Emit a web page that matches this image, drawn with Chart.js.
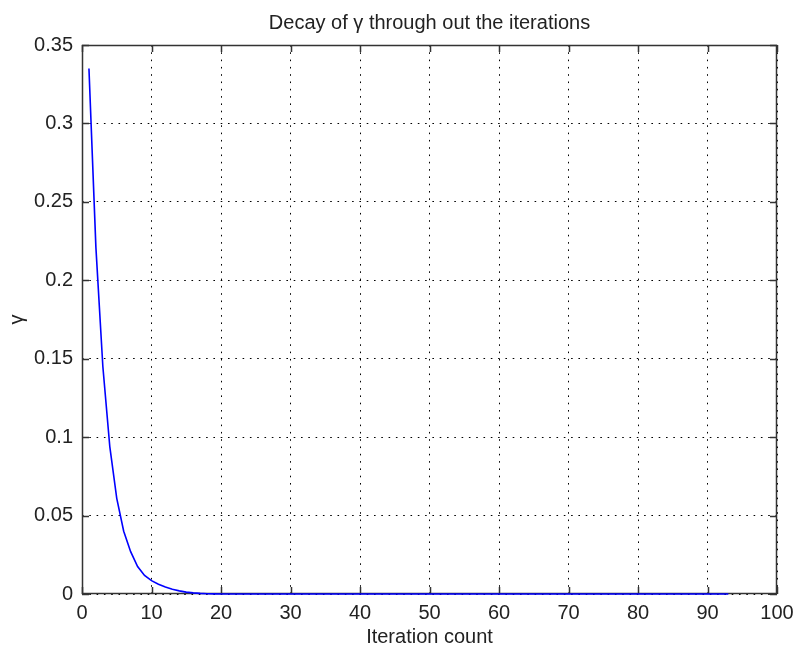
<!DOCTYPE html>
<html>
<head>
<meta charset="utf-8">
<title>Decay of gamma</title>
<script src="https://cdn.jsdelivr.net/npm/chart.js@4.4.0/dist/chart.umd.min.js"></script>
<style>
  html, body { margin: 0; padding: 0; background: #fff; }
  #wrap { width: 794px; height: 650px; }
</style>
</head>
<body>
<div id="wrap"><canvas id="decayChart"></canvas></div>
<script>
// Iteration numbers (x) and gamma per iteration (y)
const iterations = [
  1, 2, 3, 4, 5, 6, 7, 8, 9, 10,
  11, 12, 13, 14, 15, 16, 17, 18, 19, 20,
  21, 22, 23, 24, 25, 26, 27, 28, 29, 30,
  31, 32, 33, 34, 35, 36, 37, 38, 39, 40,
  41, 42, 43, 44, 45, 46, 47, 48, 49, 50,
  51, 52, 53, 54, 55, 56, 57, 58, 59, 60,
  61, 62, 63, 64, 65, 66, 67, 68, 69, 70,
  71, 72, 73, 74, 75, 76, 77, 78, 79, 80,
  81, 82, 83, 84, 85, 86, 87, 88, 89, 90,
  91, 92, 93
];
const gammaValues = [
  0.335, 0.221, 0.145, 0.094, 0.061, 0.040, 0.027, 0.0175, 0.0118, 0.0085,
  0.0062, 0.0044, 0.0030, 0.0020, 0.0012, 0.0007, 0.0004, 0.0002, 0.0001, 0,
  0, 0, 0, 0, 0, 0, 0, 0, 0, 0,
  0, 0, 0, 0, 0, 0, 0, 0, 0, 0,
  0, 0, 0, 0, 0, 0, 0, 0, 0, 0,
  0, 0, 0, 0, 0, 0, 0, 0, 0, 0,
  0, 0, 0, 0, 0, 0, 0, 0, 0, 0,
  0, 0, 0, 0, 0, 0, 0, 0, 0, 0,
  0, 0, 0, 0, 0, 0, 0, 0, 0, 0,
  0, 0, 0
];

// Tick positions and labels
const xTickValues = [0, 10, 20, 30, 40, 50, 60, 70, 80, 90, 100];
const yTickValues = [0, 0.05, 0.1, 0.15, 0.2, 0.25, 0.3, 0.35];
const yTickLabels = ['0', '0.05', '0.1', '0.15', '0.2', '0.25', '0.3', '0.35'];

const FONT = 'Liberation Sans, Arial, Helvetica, sans-serif';
const FONT_SIZE = 20;
const TEXT_COLOR = '#222';

// Box around the plot plus inward ticks, like a MATLAB axes
const axesBox = {
  id: 'axesBox',
  afterLayout(chart) {
    // centre the title over the plot area, not the whole canvas
    if (chart.titleBlock) {
      chart.titleBlock.left = chart.chartArea.left;
      chart.titleBlock.right = chart.chartArea.right;
    }
  },
  beforeDatasetsDraw(chart) {
    const { ctx, chartArea: a, scales: { x, y } } = chart;
    const tickLen = 7;
    ctx.save();
    ctx.strokeStyle = '#333';
    ctx.lineWidth = 1.5;
    ctx.strokeRect(a.left + 0.5, a.top + 0.5, a.right - a.left - 1, a.bottom - a.top - 1);
    ctx.beginPath();
    x.ticks.forEach(t => {
      const px = Math.round(x.getPixelForValue(t.value)) + 0.5;
      ctx.moveTo(px, a.bottom);
      ctx.lineTo(px, a.bottom - tickLen);
      ctx.moveTo(px, a.top);
      ctx.lineTo(px, a.top + tickLen);
    });
    y.ticks.forEach(t => {
      const py = Math.round(y.getPixelForValue(t.value)) + 0.5;
      ctx.moveTo(a.left, py);
      ctx.lineTo(a.left + tickLen, py);
      ctx.moveTo(a.right, py);
      ctx.lineTo(a.right - tickLen, py);
    });
    ctx.stroke();
    ctx.restore();
  }
};

const ctx = document.getElementById('decayChart').getContext('2d');

new Chart(ctx, {
  type: 'line',
  data: {
    datasets: [{
      label: 'gamma',
      data: iterations.map((it, i) => ({ x: it, y: gammaValues[i] })),
      borderColor: '#0000ff',
      borderWidth: 1.6,
      pointRadius: 0,
      fill: false,
      tension: 0,
      clip: false
    }]
  },
  options: {
    responsive: true,
    maintainAspectRatio: false,
    animation: false,
    layout: { padding: { left: 0, right: 17, top: 0, bottom: 0 } },
    plugins: {
      legend: { display: false },
      tooltip: { enabled: false },
      title: {
        display: true,
        text: 'Decay of γ through out the iterations',
        color: TEXT_COLOR,
        font: { family: FONT, size: FONT_SIZE, weight: 'normal' },
        padding: { top: 11, bottom: 10 }
      }
    },
    scales: {
      x: {
        type: 'linear',
        min: 0,
        max: 100,
        afterBuildTicks: scale => { scale.ticks = xTickValues.map(v => ({ value: v })); },
        afterFit: scale => { scale.height = 56; scale.paddingLeft = 0; scale.paddingRight = 0; },
        grid: { color: '#000', lineWidth: 1, drawTicks: false },
        border: { display: false, dash: [1.6, 5.7] },
        ticks: {
          color: TEXT_COLOR,
          font: { family: FONT, size: FONT_SIZE },
          padding: 7,
          maxRotation: 0,
          callback: v => String(v)
        },
        title: {
          display: true,
          text: 'Iteration count',
          color: TEXT_COLOR,
          font: { family: FONT, size: FONT_SIZE },
          padding: { top: 0, bottom: 1 }
        }
      },
      y: {
        type: 'linear',
        min: 0,
        max: 0.35,
        afterBuildTicks: scale => { scale.ticks = yTickValues.map(v => ({ value: v })); },
        afterFit: scale => { scale.width = 82; },
        grid: { color: '#000', lineWidth: 1, drawTicks: false },
        border: { display: false, dash: [1.6, 5.7] },
        ticks: {
          color: TEXT_COLOR,
          font: { family: FONT, size: FONT_SIZE },
          padding: 9,
          callback: (v, i) => yTickLabels[i]
        },
        title: {
          display: true,
          text: 'γ',
          color: TEXT_COLOR,
          font: { family: FONT, size: FONT_SIZE },
          padding: { top: 5.5, bottom: 0 }
        }
      }
    }
  },
  plugins: [axesBox]
});
</script>
</body>
</html>
